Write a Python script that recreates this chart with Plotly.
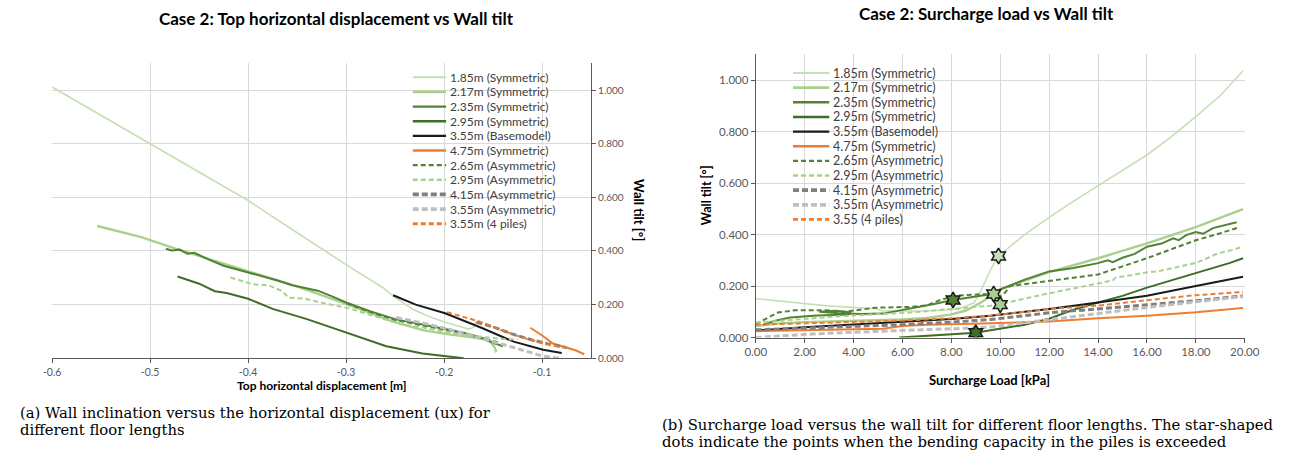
import plotly.graph_objects as go

# ---------------------------------------------------------------------------
# Series labels (same order in both panels)
# ---------------------------------------------------------------------------
labels_a = ["1.85m (Symmetric)", "2.17m (Symmetric)", "2.35m (Symmetric)",
            "2.95m (Symmetric)", "3.55m (Basemodel)", "4.75m (Symmetric)",
            "2.65m (Asymmetric)", "2.95m (Asymmetric)", "4.15m (Asymmetric)",
            "3.55m (Asymmetric)", "3.55m (4 piles)"]
labels_b = ["1.85m (Symmetric)", "2.17m (Symmetric)", "2.35m (Symmetric)",
            "2.95m (Symmetric)", "3.55m (Basemodel)", "4.75m (Symmetric)",
            "2.65m (Asymmetric)", "2.95m (Asymmetric)", "4.15m (Asymmetric)",
            "3.55m (Asymmetric)", "3.55 (4 piles)"]

# ---------------------------------------------------------------------------
# (a) Top horizontal displacement ux [m] vs wall tilt [deg]
# ---------------------------------------------------------------------------
a185_ux = [-0.600, -0.550, -0.500, -0.450, -0.400, -0.350, -0.300, -0.262, -0.252,
           -0.232, -0.215, -0.199, -0.185, -0.175, -0.170, -0.167]
a185_tilt = [1.011, 0.905, 0.799, 0.693, 0.588, 0.468, 0.349, 0.262, 0.232,
             0.183, 0.155, 0.134, 0.118, 0.109, 0.115, 0.140]

a217_ux = [-0.554, -0.509, -0.475, -0.440, -0.400, -0.352, -0.300, -0.255, -0.222,
           -0.199, -0.175, -0.160, -0.152, -0.148, -0.147]
a217_tilt = [0.493, 0.452, 0.410, 0.370, 0.326, 0.270, 0.203, 0.140, 0.105,
             0.091, 0.080, 0.072, 0.058, 0.038, 0.022]

a235_ux = [-0.484, -0.478, -0.470, -0.462, -0.455, -0.447, -0.440, -0.425, -0.410,
           -0.400, -0.390, -0.380, -0.370, -0.355, -0.340, -0.329, -0.315, -0.300,
           -0.275, -0.249, -0.222, -0.199, -0.180, -0.160, -0.148, -0.140]
a235_tilt = [0.408, 0.402, 0.405, 0.390, 0.393, 0.378, 0.368, 0.345, 0.330,
             0.318, 0.310, 0.300, 0.290, 0.272, 0.262, 0.252, 0.232, 0.208,
             0.175, 0.145, 0.126, 0.109, 0.095, 0.075, 0.055, 0.045]

a295_ux = [-0.472, -0.450, -0.434, -0.422, -0.400, -0.375, -0.340, -0.300, -0.259,
           -0.222, -0.200, -0.180]
a295_tilt = [0.305, 0.278, 0.250, 0.243, 0.222, 0.184, 0.146, 0.096, 0.045,
             0.018, 0.008, 0.000]

a355_ux = [-0.252, -0.229, -0.199, -0.162, -0.129, -0.099, -0.080]
a355_tilt = [0.235, 0.200, 0.168, 0.114, 0.062, 0.032, 0.020]

a475_ux = [-0.112, -0.100, -0.089, -0.075, -0.066, -0.057]
a475_tilt = [0.114, 0.085, 0.055, 0.040, 0.030, 0.015]

a265a_ux = [-0.300, -0.275, -0.249, -0.222, -0.199, -0.180, -0.160, -0.145]
a265a_tilt = [0.205, 0.172, 0.142, 0.122, 0.106, 0.092, 0.073, 0.060]

a295a_ux = [-0.418, -0.395, -0.379, -0.365, -0.359, -0.342, -0.322, -0.299, -0.272,
            -0.242, -0.222, -0.199, -0.175, -0.155, -0.135, -0.125]
a295a_tilt = [0.301, 0.276, 0.272, 0.250, 0.226, 0.222, 0.205, 0.188, 0.158,
              0.125, 0.115, 0.098, 0.085, 0.077, 0.070, 0.072]

a415a_ux = [-0.167, -0.150, -0.130, -0.110, -0.090, -0.075]
a415a_tilt = [0.135, 0.117, 0.090, 0.068, 0.050, 0.040]

a355a_ux = [-0.249, -0.220, -0.195, -0.162, -0.129, -0.099, -0.082]
a355a_tilt = [0.152, 0.130, 0.108, 0.075, 0.040, 0.008, 0.000]

a4p_ux = [-0.197, -0.180, -0.162, -0.145, -0.129, -0.115, -0.102, -0.085, -0.072]
a4p_tilt = [0.172, 0.155, 0.135, 0.110, 0.088, 0.072, 0.058, 0.045, 0.038]

# ---------------------------------------------------------------------------
# (b) Surcharge load [kPa] vs wall tilt [deg]
# ---------------------------------------------------------------------------
b185_load = [0.0, 2.0, 2.93, 4.93, 5.2, 6.93, 8.27, 8.93, 9.2, 9.6, 9.93, 11.0,
             12.0, 13.0, 14.0, 15.0, 16.0, 17.0, 18.0, 19.0, 19.93]
b185_tilt = [0.151, 0.130, 0.123, 0.112, 0.103, 0.103, 0.110, 0.135, 0.180, 0.263,
             0.317, 0.400, 0.467, 0.530, 0.590, 0.648, 0.709, 0.780, 0.858, 0.940, 1.036]

b217_load = [0.0, 1.0, 2.0, 3.0, 4.0, 5.0, 6.0, 7.0, 8.0, 8.6, 9.2, 9.73, 10.0,
             12.0, 14.0, 16.0, 18.0, 19.93]
b217_tilt = [0.045, 0.055, 0.060, 0.062, 0.064, 0.066, 0.070, 0.076, 0.090, 0.105,
             0.135, 0.169, 0.187, 0.254, 0.308, 0.366, 0.429, 0.499]

b235_load = [0.3, 0.8, 1.4, 2.5, 3.8, 3.9, 3.3, 2.6, 3.4, 4.3, 5.2, 6.5, 7.3, 8.07,
             9.2, 9.73, 10.0, 11.0, 12.0, 13.0, 14.0, 14.4, 14.6, 15.0, 15.5, 16.0,
             16.6, 17.07, 17.3, 17.6, 18.0, 18.3, 18.7, 19.0, 19.4, 19.67]
b235_tilt = [0.050, 0.065, 0.078, 0.086, 0.090, 0.097, 0.104, 0.100, 0.094, 0.092,
             0.093, 0.115, 0.130, 0.146, 0.161, 0.170, 0.187, 0.225, 0.257, 0.270,
             0.289, 0.300, 0.293, 0.310, 0.325, 0.353, 0.365, 0.385, 0.378, 0.398,
             0.410, 0.403, 0.425, 0.432, 0.440, 0.448]

b295_load = [5.87, 7.0, 8.0, 9.0, 9.6, 10.0, 11.0, 12.0, 12.9, 14.0, 15.0, 16.0,
             17.0, 18.0, 18.5, 18.9, 19.4, 19.93]
b295_tilt = [0.000, 0.006, 0.012, 0.019, 0.028, 0.034, 0.050, 0.073, 0.105, 0.136,
             0.162, 0.194, 0.222, 0.251, 0.265, 0.275, 0.290, 0.308]

b355_load = [0.0, 0.5, 2.0, 4.0, 6.0, 8.0, 9.6, 12.0, 14.0, 16.0, 18.0, 19.93]
b355_tilt = [0.028, 0.030, 0.040, 0.050, 0.060, 0.072, 0.085, 0.111, 0.136, 0.162,
             0.200, 0.236]

b475_load = [0.0, 2.0, 4.0, 5.2, 6.0, 7.0, 8.5, 9.6, 12.0, 14.0, 16.0, 18.0, 19.93]
b475_tilt = [0.025, 0.028, 0.031, 0.034, 0.045, 0.050, 0.053, 0.055, 0.062, 0.075,
             0.085, 0.098, 0.115]

b265a_load = [0.0, 0.4, 0.9, 1.6, 2.9, 3.6, 4.9, 6.3, 7.0, 7.6, 8.3, 9.2, 9.6, 9.9,
              10.2, 10.4, 12.0, 14.0, 16.0, 18.0, 19.0, 19.8]
b265a_tilt = [0.052, 0.071, 0.097, 0.106, 0.106, 0.100, 0.116, 0.119, 0.125, 0.148,
              0.163, 0.168, 0.168, 0.152, 0.175, 0.200, 0.219, 0.245, 0.308, 0.378,
              0.405, 0.429]

b295a_load = [0.0, 0.9, 3.6, 6.3, 8.9, 9.6, 10.0, 12.0, 14.0, 14.6, 14.7, 16.0,
              16.5, 17.0, 17.6, 18.0, 18.5, 18.9, 19.5, 19.93]
b295a_tilt = [0.058, 0.065, 0.084, 0.097, 0.116, 0.124, 0.130, 0.172, 0.210, 0.222,
              0.232, 0.253, 0.258, 0.268, 0.283, 0.290, 0.310, 0.327, 0.340, 0.353]

b415a_load = [0.0, 2.0, 4.0, 6.0, 8.0, 9.6, 12.0, 14.0, 16.0, 18.0, 19.93]
b415a_tilt = [0.030, 0.036, 0.043, 0.050, 0.060, 0.070, 0.096, 0.111, 0.127, 0.143,
              0.162]

b355a_load = [0.0, 2.5, 5.2, 7.0, 8.5, 9.6, 12.0, 14.0, 16.0, 18.0, 19.93]
b355a_tilt = [0.000, 0.015, 0.025, 0.030, 0.036, 0.041, 0.070, 0.092, 0.117, 0.139,
              0.159]

b4p_load = [0.0, 2.0, 4.0, 6.0, 8.0, 9.6, 12.0, 14.0, 16.0, 17.9, 19.93]
b4p_tilt = [0.050, 0.055, 0.060, 0.066, 0.075, 0.085, 0.111, 0.124, 0.145, 0.164,
            0.177]

# Points where the bending capacity of the piles is exceeded (index into labels_b)
star_series = [0, 1, 7, 2, 3]
star_load = [9.93, 9.73, 10.0, 8.07, 9.0]
star_tilt = [0.317, 0.169, 0.128, 0.146, 0.019]

# Axis ticks
ux_ticks = [-0.6, -0.5, -0.4, -0.3, -0.2, -0.1]
ux_ticklabels = ["-0.6", "-0.5", "-0.4", "-0.3", "-0.2", "-0.1"]
tilt_ticks = [0.0, 0.2, 0.4, 0.6, 0.8, 1.0]
load_ticks = [0, 2, 4, 6, 8, 10, 12, 14, 16, 18, 20]

# ---------------------------------------------------------------------------
# Styles
# ---------------------------------------------------------------------------
colors = ["#c5e0b4", "#a9d18e", "#548235", "#3e6d26", "#1a1a1a", "#ed7d31",
          "#548235", "#a9d18e", "#7f7f7f", "#bfbfbf", "#ed7d31"]
widths = [1.6, 2.4, 2.0, 2.0, 2.0, 2.0, 2.0, 2.0, 3.0, 3.0, 2.0]
dashes = ["solid"] * 6 + ["5px,3px", "5px,3px", "6px,3px", "6px,3px", "5px,3px"]

series_a = [(a185_ux, a185_tilt), (a217_ux, a217_tilt), (a235_ux, a235_tilt),
            (a295_ux, a295_tilt), (a355_ux, a355_tilt), (a475_ux, a475_tilt),
            (a265a_ux, a265a_tilt), (a295a_ux, a295a_tilt), (a415a_ux, a415a_tilt),
            (a355a_ux, a355a_tilt), (a4p_ux, a4p_tilt)]
series_b = [(b185_load, b185_tilt), (b217_load, b217_tilt), (b235_load, b235_tilt),
            (b295_load, b295_tilt), (b355_load, b355_tilt), (b475_load, b475_tilt),
            (b265a_load, b265a_tilt), (b295a_load, b295a_tilt),
            (b415a_load, b415a_tilt), (b355a_load, b355a_tilt), (b4p_load, b4p_tilt)]

W, H = 1296, 463
SANS = "Lato"
SERIF = "DejaVu Serif"
GRID = "#d9d9d9"
AXIS = "#595959"
TICK = "#595959"


def fx(p):
    return p / W


def fy(p):
    return 1 - p / H


fig = go.Figure()

for i, (xs, ys) in enumerate(series_a):
    fig.add_trace(go.Scatter(
        x=xs, y=ys, mode="lines", name=labels_a[i], showlegend=False,
        line=dict(color=colors[i], width=widths[i], dash=dashes[i]),
        xaxis="x", yaxis="y"))

for i, (xs, ys) in enumerate(series_b):
    fig.add_trace(go.Scatter(
        x=xs, y=ys, mode="lines", name=labels_b[i], showlegend=False,
        line=dict(color=colors[i], width=widths[i], dash=dashes[i]),
        xaxis="x2", yaxis="y2"))

fig.add_trace(go.Scatter(
    x=star_load, y=star_tilt, mode="markers", showlegend=False,
    marker=dict(symbol="hexagram", size=12,
                color=[colors[s] for s in star_series],
                line=dict(color="#1a1a1a", width=1.5)),
    xaxis="x2", yaxis="y2"))

# ---------------------------------------------------------------------------
# Legends (compact, drawn inside each plot area)
# ---------------------------------------------------------------------------
shapes = []
annotations = []


def add_legend(labels, line_x0, line_x1, text_x, row0, step, size):
    for i, lab in enumerate(labels):
        yc = row0 + i * step
        lw = widths[i] + (0.8 if i >= 8 else 0.4)
        shapes.append(dict(type="line", xref="paper", yref="paper",
                           x0=fx(line_x0), x1=fx(line_x1), y0=fy(yc), y1=fy(yc),
                           line=dict(color=colors[i], width=lw, dash=dashes[i])))
        annotations.append(dict(text=lab, xref="paper", yref="paper",
                                x=fx(text_x), y=fy(yc), xanchor="left",
                                yanchor="middle", showarrow=False,
                                font=dict(family=SANS, size=size, color="#404040")))


add_legend(labels_a, 410, 444, 446, 78.3, 14.84, 12)
add_legend(labels_b, 798, 835, 837, 74.0, 14.83, 12.5)

# Titles
annotations.append(dict(text="<b>Case 2: Top horizontal displacement vs Wall tilt</b>",
                        xref="paper", yref="paper", x=fx(332), y=fy(19),
                        xanchor="center", yanchor="middle", showarrow=False,
                        font=dict(family=SANS, size=17, color="#000000")))
annotations.append(dict(text="<b>Case 2: Surcharge load vs Wall tilt</b>",
                        xref="paper", yref="paper", x=fx(995), y=fy(14),
                        xanchor="center", yanchor="middle", showarrow=False,
                        font=dict(family=SANS, size=17, color="#000000")))

# Axis titles
annotations.append(dict(text="<b>Top horizontal displacement [m]</b>",
                        xref="paper", yref="paper", x=fx(317), y=fy(391),
                        xanchor="center", yanchor="middle", showarrow=False,
                        font=dict(family=SANS, size=12, color="#000000")))
annotations.append(dict(text="<b>Wall tilt [°]</b>", textangle=90,
                        xref="paper", yref="paper", x=fx(641), y=fy(213),
                        xanchor="center", yanchor="middle", showarrow=False,
                        font=dict(family=SANS, size=13, color="#000000")))
annotations.append(dict(text="<b>Surcharge Load [kPa]</b>",
                        xref="paper", yref="paper", x=fx(999), y=fy(385),
                        xanchor="center", yanchor="middle", showarrow=False,
                        font=dict(family=SANS, size=13, color="#000000")))
annotations.append(dict(text="<b>Wall tilt [°]</b>", textangle=-90,
                        xref="paper", yref="paper", x=fx(710), y=fy(198),
                        xanchor="center", yanchor="middle", showarrow=False,
                        font=dict(family=SANS, size=12.5, color="#000000")))

# Sub-figure captions
captions = [
    ("(a) Wall inclination versus the horizontal displacement (ux) for", 7, 418),
    ("different floor lengths", 7, 435),
    ("(b) Surcharge load versus the wall tilt for different floor lengths. "
     "The star-shaped", 662, 430),
    ("dots indicate the points when the bending capacity in the piles is exceeded",
     662, 447),
]
for txt, x0, yc in captions:
    annotations.append(dict(text=txt, xref="paper", yref="paper", x=fx(x0), y=fy(yc),
                            xanchor="left", yanchor="middle", showarrow=False,
                            font=dict(family=SERIF, size=14.8, color="#000000")))

axis_common = dict(showgrid=True, gridcolor=GRID, gridwidth=1, zeroline=False,
                   showline=True, linecolor=AXIS, linewidth=1, ticks="outside",
                   ticklen=4, tickcolor=AXIS)

fig.update_layout(
    width=W, height=H, margin=dict(l=0, r=0, t=0, b=0),
    paper_bgcolor="white", plot_bgcolor="white", showlegend=False,
    shapes=shapes, annotations=annotations,
    xaxis=dict(domain=[fx(42), fx(592)], range=[-0.6, -0.05], anchor="y",
               tickmode="array", tickvals=ux_ticks, ticktext=ux_ticklabels,
               tickfont=dict(family=SANS, size=10.5, color=TICK), **axis_common),
    yaxis=dict(domain=[fy(363), fy(64)], range=[0, 1.1], anchor="x", side="right",
               tickmode="array", tickvals=tilt_ticks, tickformat=".3f",
               tickfont=dict(family=SANS, size=10, color=TICK), **axis_common),
    xaxis2=dict(domain=[fx(760), fx(1259)], range=[0, 20], anchor="y2",
                tickmode="array", tickvals=load_ticks, tickformat=".2f",
                tickfont=dict(family=SANS, size=11.5, color=TICK), **axis_common),
    yaxis2=dict(domain=[fy(342), fy(55)], range=[0, 1.1], anchor="x2",
                tickmode="array", tickvals=tilt_ticks, tickformat=".3f",
                tickfont=dict(family=SANS, size=11.5, color=TICK), **axis_common),
)

fig.write_html("out.html")
